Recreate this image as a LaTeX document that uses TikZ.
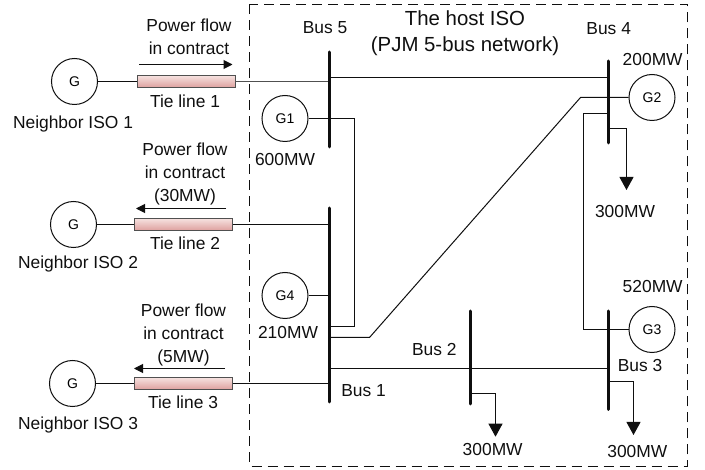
\documentclass[tikz,border=0pt]{standalone}
\usepackage{fontspec}
\setmainfont{Liberation Sans}
\usepackage{tikz}
\usetikzlibrary{arrows.meta}
\usetikzlibrary{calc}
\definecolor{tietop}{RGB}{246,226,224}
\definecolor{tiebot}{RGB}{222,160,158}
\definecolor{tieline}{RGB}{80,80,80}
\definecolor{ink}{RGB}{15,15,15}
\tikzset{
  gen/.style={draw=ink,line width=1pt,circle,fill=white,minimum size=46pt,inner sep=0pt,font=\fontsize{14}{16}\selectfont},
  tie/.style={draw=tieline,line width=1pt,top color=tietop,bottom color=tiebot,minimum width=98pt,minimum height=12pt,inner sep=0pt},
  lab/.style={text=ink,inner sep=0pt,align=center,font=\fontsize{17.4}{23}\selectfont},
  bus/.style={ink,line width=3pt,line cap=round},
  wire/.style={ink,line width=1pt},
  load/.style={ink,line width=1pt,-{Triangle[length=13pt,width=14pt]}},
  flow/.style={ink,line width=1pt,-{Triangle[length=9pt,width=9pt]}}
}
\begin{document}
\begin{tikzpicture}[x=1pt,y=-1pt]
\useasboundingbox (0,0) rectangle (705,470);
\draw [ink,line width=1pt,dash pattern=on 10pt off 6pt] (249.5,4.5) rectangle (687.5,466.5);

% neighbors
\node [gen] (n1) at (74.5,81.5) {G};
\node [gen] (n2) at (73.5,224.5) {G};
\node [gen] (n3) at (72.5,383.5) {G};
\node [tie] (tie1) at (186,81.5) {};
\node [tie] (tie2) at (183.5,224.5) {};
\node [tie] (tie3) at (183,383.5) {};

% generators of the host
\node [gen] (g1) at (285,118.5) {G1};
\node [gen] (g2) at (652,97.5) {G2};
\node [gen] (g3) at (652,329.5) {G3};
\node [gen] (g4) at (285,295.5) {G4};

% buses
\coordinate (bus5a) at (329.5,52);
\coordinate (bus5b) at (329.5,147);
\coordinate (bus1a) at (329.5,208);
\coordinate (bus1b) at (329.5,402);
\coordinate (bus4a) at (608.5,61);
\coordinate (bus4b) at (608.5,143);
\coordinate (bus3a) at (608.5,311);
\coordinate (bus3b) at (608.5,409.5);
\coordinate (bus2a) at (470.5,311);
\coordinate (bus2b) at (470.5,404);

% tie lines
\draw [wire] (n1)--(tie1);
\draw [wire] (n2)--(tie2);
\draw [wire] (n3)--(tie3);
\draw [tieline,line width=1pt] (tie1)--(tie1-|bus5a);
\draw [wire] (tie2)--(tie2-|bus1a);
\draw [wire] (tie3)--(tie3-|bus1a);

% network
\coordinate (w1) at (329.5,77.5);
\coordinate (w2) at (354.5,118.5);
\coordinate (w3) at (329.5,326.5);
\coordinate (w4) at (329.5,337.5);
\coordinate (w5) at (369.5,337.5);
\coordinate (w6) at (580.5,97.5);
\coordinate (w7) at (608.5,113.5);
\coordinate (w8) at (583.5,329.5);
\coordinate (w9) at (329.5,368.5);
\draw [wire] (w1)--(w1-|bus4a);
\draw [wire] (g1)--(w2)--(w2|-w3)--(w3);
\draw [wire] (w4)--(w5)--(w6)--(g2);
\draw [wire] (w7)--(w7-|w8)--(w8)--(g3);
\draw [wire] (g4)--(g4-|bus1a);
\draw [wire] (w9)--(w9-|bus3a);

% loads
\draw [load] (608.5,128.5)--(626.5,128.5)--(626.5,190);
\draw [load] (470.5,393.5)--(495.5,393.5)--(495.5,436.7);
\draw [load] (608.5,381.5)--(633.5,381.5)--(633.5,435);

\draw [bus] (bus5a)--(bus5b);
\draw [bus] (bus1a)--(bus1b);
\draw [bus] (bus4a)--(bus4b);
\draw [bus] (bus3a)--(bus3b);
\draw [bus] (bus2a)--(bus2b);

% contract arrows
\draw [flow] (139,64.5)--(232.5,64.5);
\draw [flow] (226,208.5)--(136,208.5);
\draw [flow] (225,368.5)--(134,368.5);

% labels
\node [lab] (flow1) at (189,37) {Power flow\\in contract};
\node [lab] (flow2) at (185,174) {Power flow\\in contract\\(30MW)};
\node [lab] (flow3) at (183.5,334.5) {Power flow\\in contract\\(5MW)};
\node [lab] (tl1) at (185,101) {Tie line 1};
\node [lab] (tl2) at (185,243) {Tie line 2};
\node [lab] (tl3) at (183,402) {Tie line 3};
\node [lab] (iso1) at (73,124) {Neighbor ISO 1};
\node [lab] (iso2) at (78,264) {Neighbor ISO 2};
\node [lab] (iso3) at (78,425) {Neighbor ISO 3};
\node [lab,font=\fontsize{20.4}{26}\selectfont] (host) at (465,33) {The host ISO\\(PJM 5-bus network)};
\node [lab] (b5) at (325,28) {Bus 5};
\node [lab] (b4) at (608.7,29) {Bus 4};
\node [lab] (b3) at (640,366) {Bus 3};
\node [lab] (b2) at (434.3,350) {Bus 2};
\node [lab] (b1) at (363.5,391) {Bus 1};
\node [lab] (p1) at (285,160) {600MW};
\node [lab] (p4) at (288,333) {210MW};
\node [lab] (p2) at (652.7,60) {200MW};
\node [lab] (p3) at (652.7,286.7) {520MW};
\node [lab] (l4) at (625,212) {300MW};
\node [lab] (l2) at (492.7,450) {300MW};
\node [lab] (l3) at (637.3,451.7) {300MW};

\end{tikzpicture}
\end{document}
